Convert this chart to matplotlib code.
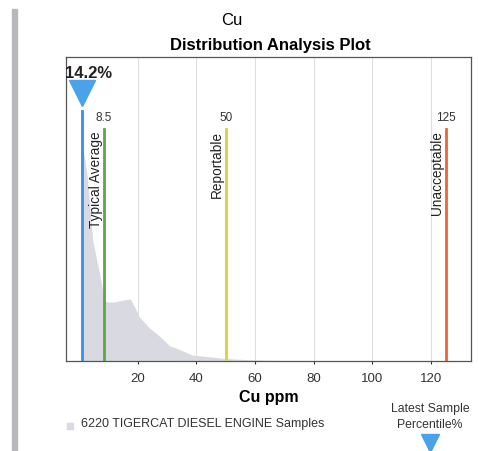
import matplotlib
matplotlib.use("Agg")
import matplotlib.pyplot as plt
from matplotlib.patches import Rectangle
from matplotlib.lines import Line2D

plt.rcParams['font.family'] = ['Liberation Sans', 'DejaVu Sans']

# distribution of Cu ppm across samples
dist_x = [1, 1.5, 2, 2.7, 3.5, 4.7, 6, 7, 8, 8.6, 9.5, 12, 15, 17.5, 19, 20.6, 24, 27, 31, 33, 38.6, 45, 50, 58, 70, 90, 100]
dist_y = [21.0, 21.0, 20.2, 18.8, 16.2, 12.1, 10.2, 8.8, 7.2, 6.1, 5.9, 5.9, 6.1, 6.2, 5.4, 4.4, 3.3, 2.6, 1.5, 1.3, 0.6, 0.4, 0.25, 0.12, 0.06, 0.03, 0.0]

latest_value = 1.2
latest_pct = "14.2%"
limit_values = [8.5, 50, 125]
limit_names = ["Typical Average", "Reportable", "Unacceptable"]
limit_colors = ["#5ea548", "#d8d23e", "#ef6436"]
xticks = [20, 40, 60, 80, 100, 120]

fig = plt.figure(figsize=(4.79, 4.51), dpi=100)
ax = fig.add_axes([0.1378, 0.1996, 0.8455, 0.674])

ax.fill_between(dist_x, dist_y, 0, color="#d9d9e1", lw=0, zorder=1)

for xv in xticks:
    ax.axvline(xv, color="#dcdce4", lw=0.7, zorder=0)

# limit lines
for v, name, c in zip(limit_values, limit_names, limit_colors):
    ax.plot([v, v], [0, 23.2], color=c, lw=2.0, zorder=3)
    ax.annotate(f"{v:g}", (v, 23.4), xytext=(0, 2), textcoords="offset points",
                ha="center", va="bottom", fontsize=8.5, color="#333333")
    ax.annotate(name, (v, 23.0), xytext=(-6, 0), textcoords="offset points",
                rotation=90, ha="center", va="top", fontsize=9.8, color="#222222")

# latest sample marker
ax.plot([latest_value, latest_value], [0, 25.0], color="#3a8fe0", lw=2.0, zorder=4)
ax.plot([latest_value], [26.8], marker="v", ms=19, color="#4aa2ea", mec="#4aa2ea", zorder=5, clip_on=False)
ax.text(-4.6, 28.8, latest_pct, fontsize=12, fontweight="bold", ha="left", va="center", color="#222222")

ax.set_xlim(-4.4, 133.6)
ax.set_ylim(0, 30.4)
ax.set_yticks([])
ax.set_xticks(xticks)
ax.tick_params(axis="x", length=2, labelsize=9.5, colors="#333333", pad=7)
for s in ax.spines.values():
    s.set_color("#555555")
    s.set_linewidth(0.9)

ax.set_xlabel("Cu ppm", fontsize=11.5, fontweight="bold", labelpad=3)
fig.text(0.484, 0.955, "Cu", ha="center", va="center", fontsize=12)
fig.text(0.565, 0.9, "Distribution Analysis Plot", ha="center", va="center", fontsize=12, fontweight="bold")

# legend entry
fig.add_artist(Rectangle((0.139, 0.048), 0.013, 0.014, transform=fig.transFigure, color="#d9d9e1"))
fig.text(0.170, 0.060, "6220 TIGERCAT DIESEL ENGINE Samples", ha="left", va="center", fontsize=9, color="#333333")

# latest sample percentile note
fig.text(0.898, 0.094, "Latest Sample", ha="center", va="center", fontsize=8.8, color="#333333")
fig.text(0.898, 0.057, "Percentile%", ha="center", va="center", fontsize=8.8, color="#333333")
fig.add_artist(Line2D([0.898], [0.017], transform=fig.transFigure, marker="v", ms=13,
                      color="#4aa2ea", mec="#4aa2ea", lw=0))

# page border on the left
fig.add_artist(Rectangle((0.026, 0.0), 0.009, 0.98, transform=fig.transFigure, color="#b8b8bc"))

fig.savefig("out.png", dpi=100)
